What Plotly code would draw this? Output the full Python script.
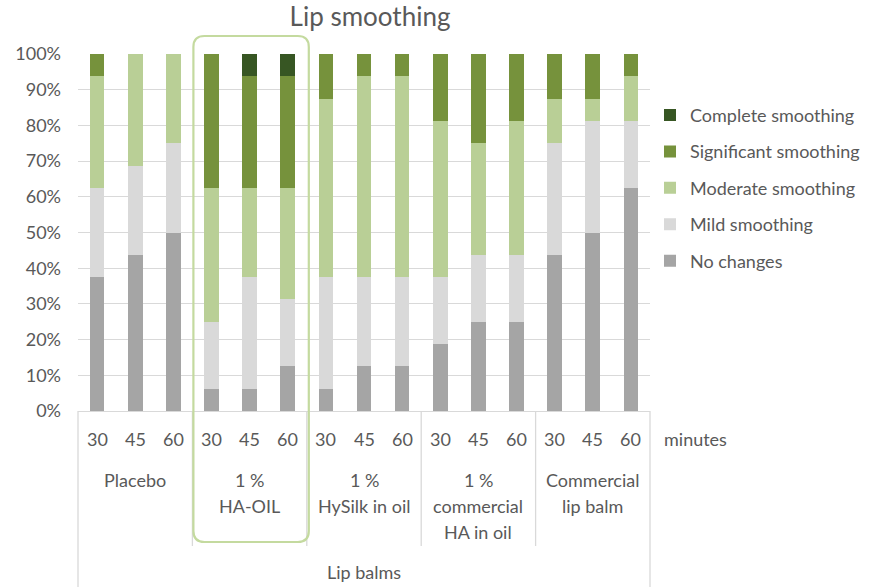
import plotly.graph_objects as go

# ---------------- data ----------------
groups = ["Placebo", "1 %\nHA-OIL", "1 %\nHySilk in oil", "1 %\ncommercial\nHA in oil", "Commercial\nlip balm"]
minutes = ["30", "45", "60"]
top_label = "Lip balms"
unit_label = "minutes"

series_names = ["No changes", "Mild smoothing", "Moderate smoothing", "Significant smoothing", "Complete smoothing"]

no_changes  = [37.5, 43.75, 50.0,  6.25, 6.25, 12.5,  6.25, 12.5, 12.5,  18.75, 25.0, 25.0,  43.75, 50.0, 62.5]
mild        = [25.0, 25.0, 25.0,   18.75, 31.25, 18.75,  31.25, 25.0, 25.0,  18.75, 18.75, 18.75,  31.25, 31.25, 18.75]
moderate    = [31.25, 31.25, 25.0, 37.5, 25.0, 31.25,  50.0, 56.25, 56.25,  43.75, 31.25, 37.5,  12.5, 6.25, 12.5]
significant = [6.25, 0, 0,         37.5, 31.25, 31.25,  12.5, 6.25, 6.25,  18.75, 25.0, 18.75,  12.5, 12.5, 6.25]
complete    = [0, 0, 0,            0, 6.25, 6.25,  0, 0, 0,  0, 0, 0,  0, 0, 0]

series_values = [no_changes, mild, moderate, significant, complete]
colors = ["#a5a5a5", "#d9d9d9", "#b9cf96", "#76923c", "#375623"]
highlight_group = "1 %\nHA-OIL"

# ---------------- build ----------------
categories = [f"{g.replace(chr(10), ' ')} | {m}" for g in groups for m in minutes]
n = len(categories)
FONT = "Lato, 'Open Sans', sans-serif"
TXT = "#595959"

fig = go.Figure()
for i, (name, vals, col) in enumerate(zip(series_names, series_values, colors)):
    fig.add_trace(go.Bar(
        x=categories, y=[v / 100 for v in vals], name=name,
        marker=dict(color=col, line=dict(width=0)),
        legendgroup=name, legendrank=len(series_names) - i,
    ))

W, H = 877, 587
L, R, T, B = 78, 227, 54, 176
plot_h = H - T - B
plot_w = W - L - R

def py(px_below):  # pixels below the x axis -> paper y
    return -px_below / plot_h

annotations = []
# minute tick labels
for c, (g, m) in zip(categories, [(g, m) for g in groups for m in minutes]):
    annotations.append(dict(x=c, y=0, xref="x", yref="paper", text=m, showarrow=False,
                            xanchor="center", yanchor="middle", yshift=-28,
                            font=dict(size=18, color=TXT, family=FONT)))
annotations.append(dict(x=1.0, y=0, xref="paper", yref="paper", text=unit_label, showarrow=False,
                        xanchor="left", xshift=12, yanchor="middle", yshift=-28,
                        font=dict(size=18, color=TXT, family=FONT)))
# group labels
k = len(minutes)
for gi, g in enumerate(groups):
    xc = (gi * k + k / 2) / n
    for li, line in enumerate(g.split("\n")):
        annotations.append(dict(x=xc, y=0, xref="paper", yref="paper", text=line, showarrow=False,
                                xanchor="center", yanchor="middle", yshift=-69 - 26 * li,
                                font=dict(size=18, color=TXT, family=FONT)))
annotations.append(dict(x=0.5, y=0, xref="paper", yref="paper", text=top_label, showarrow=False,
                        xanchor="center", yanchor="middle", yshift=-161,
                        font=dict(size=18, color=TXT, family=FONT)))

shapes = []
LC = "#d9d9d9"
# outer borders
for xe in [0, 1]:
    shapes.append(dict(type="line", xref="paper", yref="paper", x0=xe, x1=xe, y0=0, y1=py(180),
                       line=dict(color=LC, width=1.3)))
# group separators
for gi in range(1, len(groups)):
    xe = gi * k / n
    shapes.append(dict(type="line", xref="paper", yref="paper", x0=xe, x1=xe, y0=0, y1=py(135),
                       line=dict(color=LC, width=1.3)))
# highlight rounded box
hi = groups.index(highlight_group)
x0 = hi * k / n + 1 / plot_w
x1 = (hi + 1) * k / n + 2 / plot_w
y_top = 1 + 18 / plot_h
y_bot = py(131)
rx = 11 / plot_w
ry = 11 / plot_h
path = (f"M {x0} {y_top - ry} Q {x0} {y_top} {x0 + rx} {y_top} L {x1 - rx} {y_top} "
        f"Q {x1} {y_top} {x1} {y_top - ry} L {x1} {y_bot + ry} Q {x1} {y_bot} {x1 - rx} {y_bot} "
        f"L {x0 + rx} {y_bot} Q {x0} {y_bot} {x0} {y_bot + ry} Z")
shapes.append(dict(type="path", xref="paper", yref="paper", path=path,
                   line=dict(color="#c4da9f", width=2.2), fillcolor="rgba(0,0,0,0)"))

fig.update_layout(
    width=W, height=H,
    margin=dict(l=L, r=R, t=T, b=B, autoexpand=False),
    barmode="stack",
    bargap=0.615,
    plot_bgcolor="white", paper_bgcolor="white",
    font=dict(family=FONT, color=TXT, size=18),
    title=dict(text="Lip smoothing", x=370 / W, xanchor="center", y=1 - 17 / H, yanchor="middle",
               font=dict(size=26, color=TXT, family=FONT)),
    xaxis=dict(type="category", range=[-0.5, n - 0.5], showticklabels=False, ticks="",
               showgrid=False, showline=True, linecolor=LC, linewidth=1.3, fixedrange=True,
               automargin=False),
    yaxis=dict(range=[0, 1], dtick=0.1, tickformat=".0%", showgrid=True, gridcolor=LC, gridwidth=1.3,
               zeroline=False, showline=False, ticks="", ticklabelstandoff=16, automargin=False,
               tickfont=dict(size=18, color=TXT, family=FONT)),
    legend=dict(x=1.0, xanchor="left", y=0.88, yanchor="top", traceorder="grouped",
                tracegroupgap=10, font=dict(size=18, color=TXT, family=FONT), bgcolor="rgba(0,0,0,0)"),
    annotations=annotations,
    shapes=shapes,
)

fig.write_html("out.html", config={"displayModeBar": False},
               post_script="document.body.style.margin='0';document.body.style.overflow='hidden';")
